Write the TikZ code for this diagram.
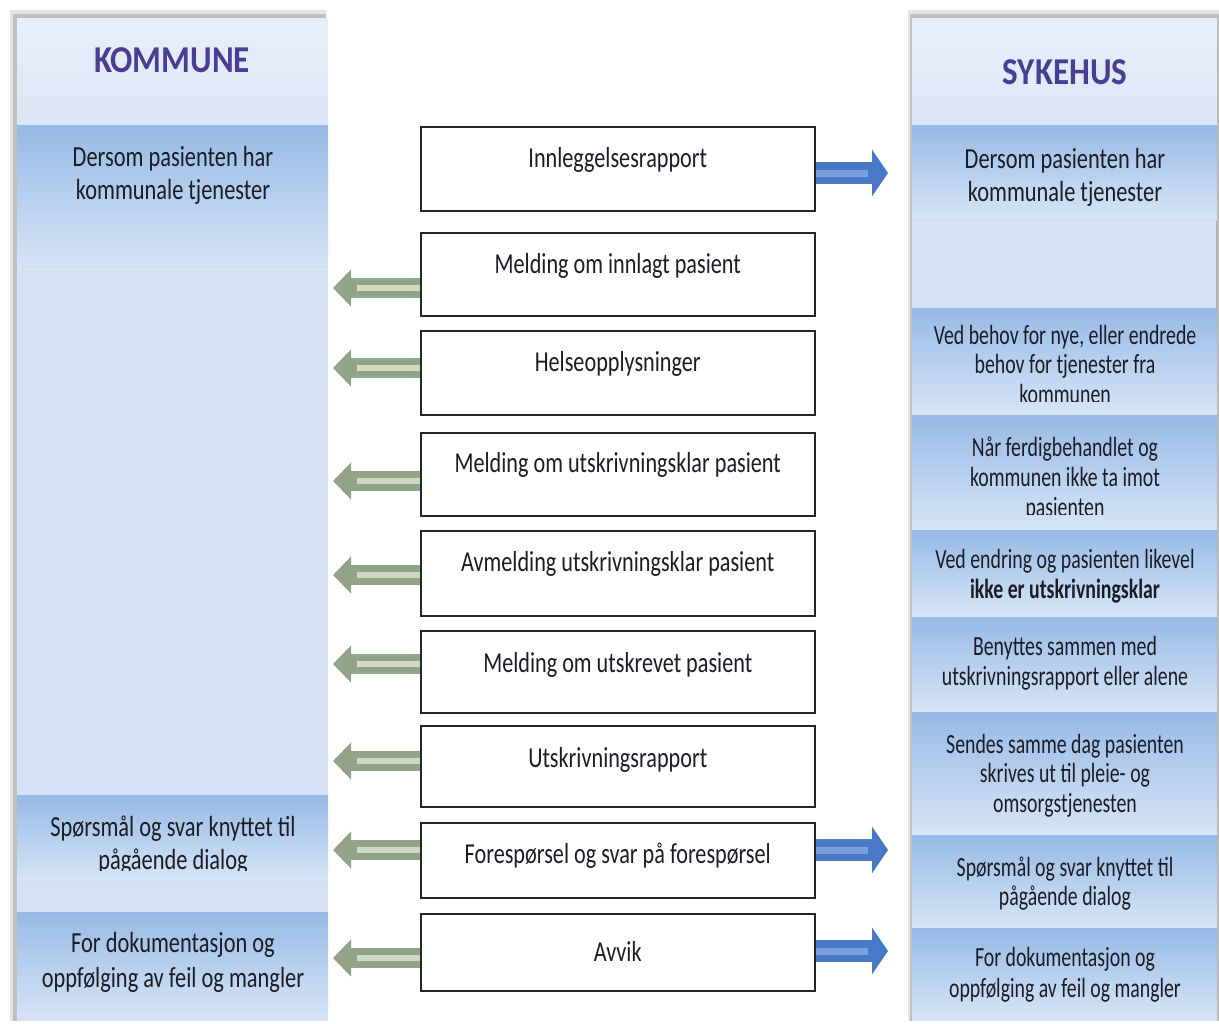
\documentclass[tikz,border=0pt]{standalone}
\usepackage{fontspec}
\setmainfont{Carlito}
\usepackage{graphicx}
\usetikzlibrary{arrows.meta,calc}

\definecolor{colbg}{RGB}{214,225,246}
\definecolor{hdrtop}{RGB}{232,239,249}
\definecolor{hdrbot}{RGB}{220,230,246}
\definecolor{boxtop}{RGB}{150,186,230}
\definecolor{boxmid}{RGB}{196,216,242}
\definecolor{boxbot}{RGB}{216,229,246}
\definecolor{headc}{RGB}{72,62,148}
\definecolor{txtc}{RGB}{28,28,38}
\definecolor{gdark}{RGB}{146,164,136}
\definecolor{glight}{RGB}{206,216,194}
\definecolor{bdark}{RGB}{72,120,198}
\definecolor{blight}{RGB}{120,160,222}

\newcommand\sidetxt[2][13pt]{\scalebox{1}[1.3]{\fontsize{11.2}{#1}\selectfont\begin{tabular}[t]{@{}c@{}}#2\end{tabular}}}
\newcommand\sidetxtb[2][10.6pt]{\scalebox{1}[1.4]{\fontsize{9.9}{#1}\selectfont\begin{tabular}[t]{@{}c@{}}#2\end{tabular}}}
\newcommand\midtxt[1]{\scalebox{1}[1.3]{#1}}

\begin{document}
\begin{tikzpicture}[x=0.5pt,y=-0.5pt,
  mbox/.style={draw=black!85, line width=0.75pt, fill=white, inner sep=0pt,
    minimum width=197pt, anchor=north west, text=txtc,
    font=\fontsize{11.1}{13}\selectfont},
  side/.style={anchor=base, inner sep=0pt, text=txtc},
  headtxt/.style={inner sep=0pt, text=headc, font=\fontsize{16.5}{18}\selectfont\bfseries},
  garrow/.style={draw=gdark, line width=10pt, -{Triangle[width=18pt,length=9pt]}},
  gstripe/.style={draw=glight, line width=3pt},
  barrow/.style={draw=bdark, line width=11pt, -{Triangle[width=23pt,length=8pt]}},
  bstripe/.style={draw=blight, line width=3.5pt},
  sepline/.style={draw=boxtop!45!white, line width=0.8pt}
]
\useasboundingbox[fill=white] (0,0) rectangle (1219,1023);

% ---------------- left column ----------------
\fill[black, opacity=0.10] (10,10) rectangle (326,1021);
\fill[black, opacity=0.16] (13,14) rectangle (326,1021);
\fill[colbg] (17,18) rectangle (328,1020);
\shade[top color=hdrtop, bottom color=hdrbot] (17,18) rectangle (328,125);
\shade[top color=boxtop, middle color=boxmid, bottom color=boxbot] (17,125) rectangle (328,272);
\draw[sepline] (17,272) -- (328,272);
\shade[top color=boxtop, middle color=boxmid, bottom color=boxbot] (17,795) rectangle (328,882);
\draw[sepline] (17,882) -- (328,882);
\shade[top color=boxtop, middle color=boxmid, bottom color=boxbot] (17,912) rectangle (328,1020);

\node[headtxt] (kommune) at (172,60) {\scalebox{1}[1.15]{KOMMUNE}};
\node[side] (l1) at (173,166) {\sidetxt[13pt]{Dersom pasienten har\\kommunale tjenester}};
\begin{scope}
\clip (17,795) rectangle (328,870);
\node[side] (l2) at (173,836) {\sidetxt[13pt]{Spørsmål og svar knyttet til\\pågående dialog}};
\end{scope}
\node[side] (l3) at (173,952) {\sidetxt[13.8pt]{For dokumentasjon og\\oppfølging av feil og mangler}};

% ---------------- right column ----------------
\fill[black, opacity=0.10] (908,10) rectangle (1219,1021);
\fill[black, opacity=0.16] (910,14) rectangle (1219,1021);
\fill[colbg] (912,18) rectangle (1217,1020);
\draw[black!30, line width=0.6pt] (1217,18) -- (1217,1020);
\shade[top color=hdrtop, bottom color=hdrbot] (912,18) rectangle (1217,125);
\shade[top color=boxtop, middle color=boxmid, bottom color=boxbot] (912,125) rectangle (1217,220);
\draw[sepline] (912,220) -- (1217,220);
\shade[top color=boxtop, middle color=boxmid, bottom color=boxbot] (912,308) rectangle (1217,415);
\shade[top color=boxtop, middle color=boxmid, bottom color=boxbot] (912,415) rectangle (1217,530);
\shade[top color=boxtop, middle color=boxmid, bottom color=boxbot] (912,530) rectangle (1217,617);
\shade[top color=boxtop, middle color=boxmid, bottom color=boxbot] (912,617) rectangle (1217,712);
\shade[top color=boxtop, middle color=boxmid, bottom color=boxbot] (912,712) rectangle (1217,835);
\shade[top color=boxtop, middle color=boxmid, bottom color=boxbot] (912,835) rectangle (1217,928);
\shade[top color=boxtop, middle color=boxmid, bottom color=boxbot] (912,928) rectangle (1217,1020);

\node[headtxt] (sykehus) at (1065,72) {\scalebox{1}[1.15]{SYKEHUS}};
\node[side] (r1) at (1065,168) {\sidetxt[13pt]{Dersom pasienten har\\kommunale tjenester}};
\begin{scope}
\clip (912,308) rectangle (1217,401);
\node[side] (r2) at (1065,344) {\sidetxtb[10.6pt]{Ved behov for nye, eller endrede\\behov for tjenester fra\\kommunen}};
\end{scope}
\begin{scope}
\clip (912,415) rectangle (1217,514);
\node[side] (r3) at (1065,456) {\sidetxtb[10.8pt]{Når ferdigbehandlet og\\kommunen ikke ta imot\\pasienten}};
\end{scope}
\node[side] (r4) at (1065,568) {\sidetxtb[11pt]{Ved endring og pasienten likevel\\\textbf{ikke er utskrivningsklar}}};
\node[side] (r5) at (1065,655) {\sidetxtb[11pt]{Benyttes sammen med\\utskrivningsrapport eller alene}};
\node[side] (r6) at (1065,753) {\sidetxtb[10.7pt]{Sendes samme dag pasienten\\skrives ut til pleie- og\\omsorgstjenesten}};
\node[side] (r7) at (1065,876) {\sidetxtb[10.7pt]{Spørsmål og svar knyttet til\\pågående dialog}};
\node[side] (r8) at (1065,966) {\sidetxtb[11.4pt]{For dokumentasjon og\\oppfølging av feil og mangler}};

% ---------------- middle boxes ----------------
\node[mbox, text height=20.5pt, text depth=21.5pt] (b1) at (420,126) {\midtxt{Innleggelsesrapport}};
\node[mbox, text height=20.5pt, text depth=21pt] (b2) at (420,232) {\midtxt{Melding om innlagt pasient}};
\node[mbox, text height=20.5pt, text depth=21.5pt] (b3) at (420,330) {\midtxt{Helseopplysninger}};
\node[mbox, text height=20pt, text depth=21.5pt] (b4) at (420,432) {\midtxt{Melding om utskrivningsklar pasient}};
\node[mbox, text height=20.5pt, text depth=22pt] (b5) at (420,530) {\midtxt{Avmelding utskrivningsklar pasient}};
\node[mbox, text height=21pt, text depth=20pt] (b6) at (420,630) {\midtxt{Melding om utskrevet pasient}};
\node[mbox, text height=21pt, text depth=19.5pt] (b7) at (420,725) {\midtxt{Utskrivningsrapport}};
\node[mbox, text height=20.5pt, text depth=17pt] (b8) at (420,822) {\midtxt{Forespørsel og svar på forespørsel}};
\node[mbox, text height=24pt, text depth=14.5pt] (b9) at (420,913) {\midtxt{Avvik}};

% ---------------- arrows ----------------
\coordinate (g2) at (333,288);
\coordinate (g3) at (333,368);
\coordinate (g4) at (333,481);
\coordinate (g5) at (333,575);
\coordinate (g6) at (333,664);
\coordinate (g7) at (333,761);
\coordinate (g8) at (333,850);
\coordinate (g9) at (333,958);
\foreach \i in {2,...,9}{
  \draw[garrow] (b\i.west |- g\i) -- (g\i);
  \draw[gstripe] (b\i.west |- g\i) -- ($(g\i)+(24,0)$);
}
\coordinate (t1) at (888,173);
\coordinate (t8) at (888,850);
\coordinate (t9) at (888,951);
\foreach \i in {1,8,9}{
  \draw[barrow] (b\i.east |- t\i) -- (t\i);
  \draw[bstripe] (b\i.east |- t\i) -- ($(t\i)+(-20,0)$);
}
\end{tikzpicture}
\end{document}
